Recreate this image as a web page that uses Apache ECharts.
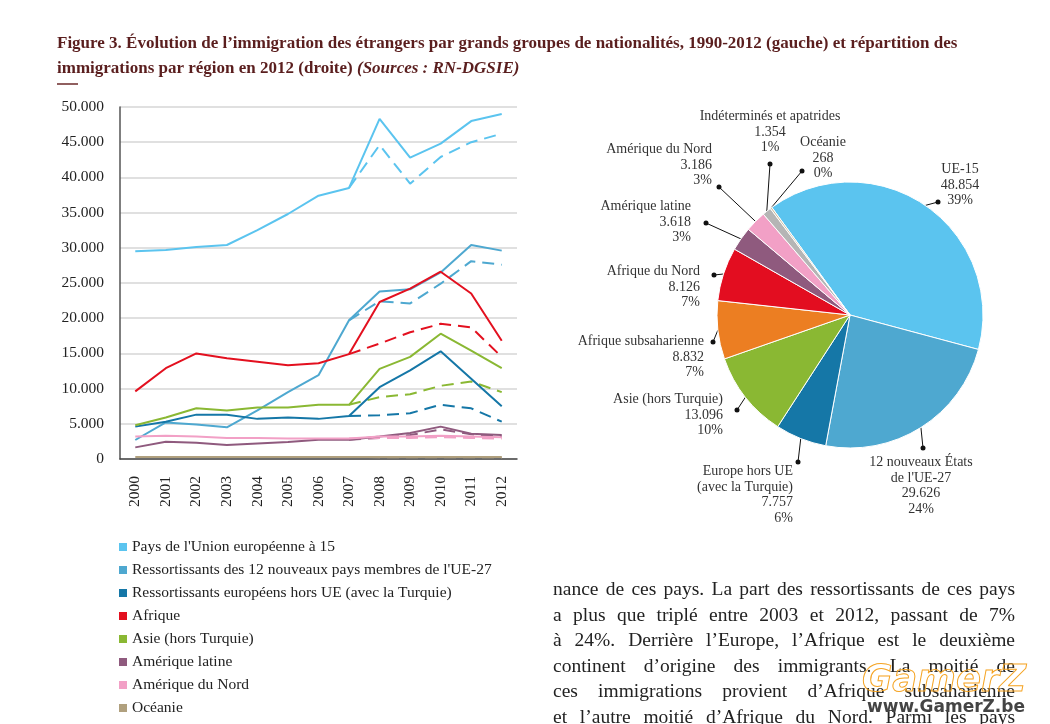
<!DOCTYPE html>
<html><head><meta charset="utf-8">
<script src="https://cdn.jsdelivr.net/npm/echarts@6/dist/echarts.min.js"></script>
<style>html,body{margin:0;padding:0;background:#fff}#c{width:1050px;height:724px}</style>
</head><body><div id="c"></div>
<script>
// ---------- DATA ----------
const years = ['2000','2001','2002','2003','2004','2005','2006','2007','2008','2009','2010','2011','2012'];
const legendNames = [
  "Pays de l'Union européenne à 15",
  "Ressortissants des 12 nouveaux pays membres de l'UE-27",
  "Ressortissants européens hors UE (avec la Turquie)",
  "Afrique",
  "Asie (hors Turquie)",
  "Amérique latine",
  "Amérique du Nord",
  "Océanie"
];
const ue15      = [29500, 29700, 30100, 30400, 32500, 34800, 37400, 38500, 48300, 42800, 44800, 48000, 49000];
const ue12      = [2700, 5200, 4900, 4500, 6900, 9500, 11900, 19700, 23800, 24100, 26500, 30400, 29600];
const euHorsUE  = [4600, 5300, 6300, 6300, 5700, 5900, 5700, 6100, 10200, 12600, 15300, 11400, 7500];
const afrique   = [9600, 12900, 15000, 14300, 13800, 13300, 13600, 14900, 22300, 24200, 26600, 23500, 16800];
const asie      = [4800, 5900, 7200, 6900, 7300, 7300, 7700, 7700, 12800, 14500, 17800, 15400, 12900];
const amLatine  = [1650, 2450, 2300, 2000, 2200, 2400, 2750, 2750, 3200, 3700, 4600, 3600, 3400];
const amNord    = [3200, 3300, 3200, 3000, 3000, 2900, 2900, 2900, 3200, 3200, 3300, 3200, 3100];
const oceanie   = [300, 300, 300, 300, 300, 300, 300, 300, 300, 300, 300, 300, 270];
// dashed series (2007-2012)
const ue15B     = [null,null,null,null,null,null,null, 38500, 44600, 39100, 42900, 45000, 46200];
const ue12B     = [null,null,null,null,null,null,null, 19700, 22400, 22100, 24900, 28100, 27600];
const euHorsUEB = [null,null,null,null,null,null,null, 6100, 6200, 6500, 7700, 7200, 5300];
const afriqueB  = [null,null,null,null,null,null,null, 14900, 16400, 18000, 19200, 18700, 14500];
const asieB     = [null,null,null,null,null,null,null, 7700, 8800, 9200, 10400, 11000, 9500];
const amLatineB = [null,null,null,null,null,null,null, 2750, 3000, 3400, 4200, 3500, 3200];
const amNordB   = [null,null,null,null,null,null,null, 2900, 3000, 3000, 3100, 3000, 2900];
const oceanieB  = [null,null,null,null,null,null,null, 300, 250, 250, 250, 250, 230];

const pieNames = ['UE-15', "12 nouveaux États\nde l'UE-27", 'Europe hors UE\n(avec la Turquie)', 'Asie (hors Turquie)',
  'Afrique subsaharienne', 'Afrique du Nord', 'Amérique latine', 'Amérique du Nord', 'Indéterminés et apatrides', 'Océanie'];
const pieValues = [48854, 29626, 7757, 13096, 8832, 8126, 3618, 3186, 1354, 268];

const bodyLines = [
  'nance de ces pays. La part des ressortissants de ces pays',
  'a plus que triplé entre 2003 et 2012, passant de 7%',
  'à 24%. Derrière l’Europe, l’Afrique est le deuxième',
  'continent d’origine des immigrants. La moitié de',
  'ces immigrations provient d’Afrique subsaharienne',
  'et l’autre moitié d’Afrique du Nord. Parmi les pays'
];

// ---------- STYLE / LAYOUT ----------
const lineColors = ['#5bc4ef', '#4ea8d0', '#1577a7', '#e3101f', '#8ab833', '#8f5a7e', '#f2a0c6', '#b0a07e'];
const pieColors = ['#5bc4ef', '#4ea8d0', '#1577a7', '#8ab833', '#ec7e22', '#e30d20', '#8f5a7e', '#f2a0c6', '#b5b5b5', '#c9b99c'];
const pieLabelLayout = [
  {x: 960, y: 162, align: 'center', dot: [938, 202]},
  {x: 921, y: 455, align: 'center', dot: [923, 448]},
  {x: 793, y: 464, align: 'right',  dot: [798, 462]},
  {x: 723, y: 392, align: 'right',  dot: [737, 410]},
  {x: 704, y: 334, align: 'right',  dot: [713, 342]},
  {x: 700, y: 264, align: 'right',  dot: [714, 275]},
  {x: 691, y: 199, align: 'right',  dot: [706, 223]},
  {x: 712, y: 142, align: 'right',  dot: [719, 187]},
  {x: 770, y: 109, align: 'center', dot: [770, 164]},
  {x: 823, y: 135, align: 'center', dot: [802, 171]}
];
const SERIF = '"Liberation Serif", "DejaVu Serif", serif';

function fmtNum(v) { return String(v).replace(/\B(?=(\d{3})+(?!\d))/g, '.'); }

const solid = [ue15, ue12, euHorsUE, afrique, asie, amLatine, amNord, oceanie];
const dashed = [ue15B, ue12B, euHorsUEB, afriqueB, asieB, amLatineB, amNordB, oceanieB];

const series = [];
dashed.forEach((d, i) => series.push({
  name: legendNames[i] + ' (b)', type: 'line', data: d, symbol: 'none', connectNulls: false,
  lineStyle: {color: lineColors[i], width: 2, type: [12, 7]}, itemStyle: {color: lineColors[i]}, z: 2
}));
solid.forEach((d, i) => series.push({
  name: legendNames[i], type: 'line', data: d, symbol: 'none',
  lineStyle: {color: lineColors[i], width: 2}, itemStyle: {color: lineColors[i]}, z: 3
}));

series.push({
  type: 'pie', center: [850, 315], radius: 133, startAngle: 126, clockwise: true,
  percentPrecision: 0, avoidLabelOverlap: false,
  data: pieNames.map((n, i) => ({name: n, value: pieValues[i], itemStyle: {color: pieColors[i]}})),
  itemStyle: {borderColor: '#fff', borderWidth: 1},
  label: {
    show: true, position: 'outside', fontFamily: SERIF, fontSize: 14, lineHeight: 15.5, color: '#333',
    formatter: p => p.name + '\n' + fmtNum(p.value) + '\n' + p.percent + '%'
  },
  labelLine: {show: true, length: 5, length2: 5, lineStyle: {color: '#111', width: 1}},
  labelLayout: function (params) {
    const L = pieLabelLayout[params.dataIndex];
    const start = (params.labelLinePoints && params.labelLinePoints[0]) || L.dot;
    return {x: L.x, y: L.y, align: L.align, verticalAlign: 'top',
      labelLinePoints: [start, L.dot, L.dot]};
  }
});

// ---------- GRAPHICS (rule, dots, body text, watermark) ----------
const graphics = [];
graphics.push({type: 'line', shape: {x1: 57, y1: 84, x2: 78, y2: 84}, style: {stroke: '#6b2a2a', lineWidth: 1.5}});
pieLabelLayout.forEach(L => graphics.push({type: 'circle', shape: {cx: L.dot[0], cy: L.dot[1], r: 2.5}, style: {fill: '#111'}, z: 100}));

const cv = document.createElement('canvas').getContext('2d');
const bodyFont = '19.5px "Liberation Serif"';
cv.font = bodyFont;
const bodyLeft = 553, bodyRight = 1015;
bodyLines.forEach((line, li) => {
  const words = line.split(' ');
  const widths = words.map(w => cv.measureText(w).width);
  const sum = widths.reduce((a, b) => a + b, 0);
  const gap = (bodyRight - bodyLeft - sum) / (words.length - 1);
  let x = bodyLeft;
  words.forEach((w, wi) => {
    graphics.push({type: 'text', x: x, y: 590 + li * 25.5,
      style: {text: w, font: bodyFont, fill: '#222', textVerticalAlign: 'middle', verticalAlign: 'middle'}});
    x += widths[wi] + gap;
  });
});
graphics.push({type: 'text', x: 862, y: 681, z: 200,
  style: {text: 'GamerZ', font: 'italic bold 37px "DejaVu Sans"', fill: 'rgba(255,255,255,0.05)', stroke: '#f5a21e', lineWidth: 1, verticalAlign: 'middle', textVerticalAlign: 'middle'}});
graphics.push({type: 'text', x: 867, y: 708, z: 200,
  style: {text: 'www.GamerZ.be', font: 'bold 17px "DejaVu Sans"', fill: '#444', verticalAlign: 'middle', textVerticalAlign: 'middle'}});

// ---------- CHART ----------
const chart = echarts.init(document.getElementById('c'), null, {renderer: 'canvas'});
chart.setOption({
  animation: false,
  backgroundColor: '#fff',
  title: {
    left: 57, top: 31, padding: 0,
    text: '{n|Figure 3. }{b|Évolution de l’immigration des étrangers par grands groupes de nationalités, 1990-2012 (gauche) et répartition des}\n{b|immigrations par région en 2012 (droite)}{i| (Sources : RN-DGSIE)}',
    textStyle: {
      fontFamily: SERIF, fontSize: 17, color: '#5a1e1e', lineHeight: 25,
      rich: {
        n: {fontFamily: SERIF, fontSize: 17, color: '#5a1e1e', lineHeight: 25},
        b: {fontFamily: SERIF, fontSize: 17, fontWeight: 'bold', color: '#5a1e1e', lineHeight: 25},
        i: {fontFamily: SERIF, fontSize: 17, fontStyle: 'italic', color: '#5a1e1e', lineHeight: 25}
      }
    }
  },
  legend: {
    data: legendNames, orient: 'vertical', left: 119, top: 539, padding: 0, height: 200,
    icon: 'rect', itemWidth: 8, itemHeight: 8, itemGap: 7,
    textStyle: {fontFamily: SERIF, fontSize: 15.5, color: '#222', lineHeight: 15}
  },
  grid: {left: 120, right: 533, top: 107, bottom: 265, containLabel: false},
  xAxis: {
    type: 'category', data: years, boundaryGap: true,
    axisLine: {lineStyle: {color: '#444', width: 1.5}},
    axisTick: {alignWithLabel: true, length: 6, lineStyle: {color: '#444', width: 1.2}},
    axisLabel: {rotate: 90, margin: 17, fontFamily: SERIF, fontSize: 15.5, color: '#222'}
  },
  yAxis: {
    type: 'value', min: 0, max: 50000, interval: 5000,
    axisLine: {show: true, lineStyle: {color: '#555', width: 1.5}},
    axisTick: {show: false},
    splitLine: {lineStyle: {color: '#d6d6d6', width: 1.5}},
    axisLabel: {margin: 16, fontFamily: SERIF, fontSize: 15.5, color: '#222',
      formatter: v => v === 0 ? '0' : (v / 1000).toFixed(3)}
  },
  series: series,
  graphic: graphics
});
</script>
</body></html>
